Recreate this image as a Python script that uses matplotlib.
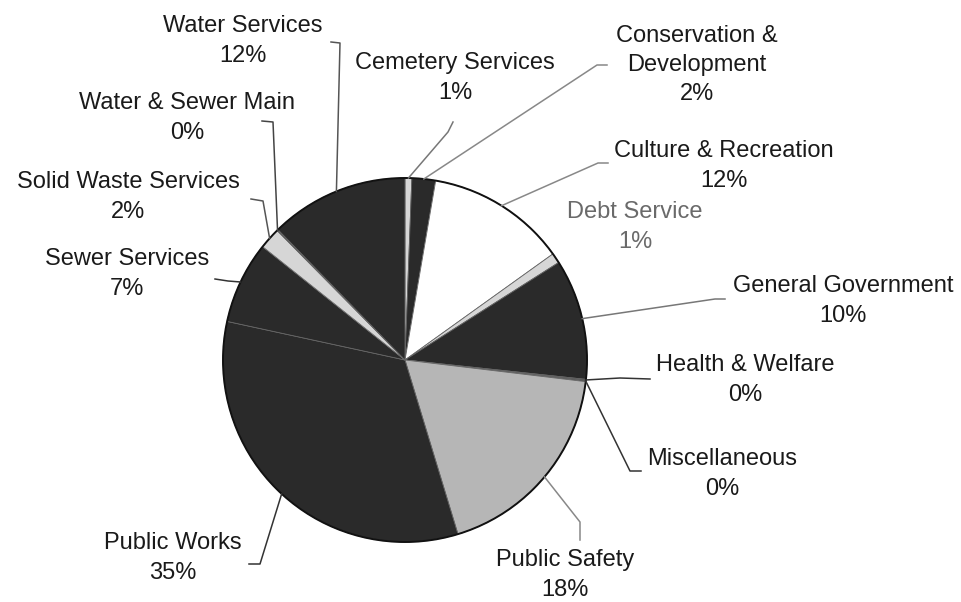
import numpy as np
import matplotlib
matplotlib.use("Agg")
import matplotlib.pyplot as plt

# share of total, clockwise from 12 o'clock
categories = ["Cemetery Services", "Conservation &\nDevelopment", "Culture & Recreation",
              "Debt Service", "General Government", "Health & Welfare", "Miscellaneous",
              "Public Safety", "Public Works", "Sewer Services", "Solid Waste Services",
              "Water & Sewer Main", "Water Services"]
shares = [0.6, 2.1, 12.4, 0.9, 10.7, 0.1, 0.1, 18.4, 33.1, 7.3, 1.9, 0.1, 12.3]
pct_labels = ["1%", "2%", "12%", "1%", "10%", "0%", "0%", "18%", "35%", "7%", "2%", "0%", "12%"]

DARK, LIGHT, SAFE = "#2a2a2a", "#d6d6d6", "#b6b6b6"
colors = [LIGHT, DARK, "white", LIGHT, DARK, DARK, DARK, SAFE, DARK, DARK, LIGHT, DARK, DARK]

# layout in image pixels: label centre, leader elbow, leader end
label_pos = [(455, 78), (697, 65), (724, 166), (635, 227), (843, 301), (745, 380),
             (722, 474), (565, 575), (173, 558), (127, 274), (128, 197), (187, 118), (243, 41)]
elbows = [(448, 132), (597, 65), (598, 163), None, (715, 299), (620, 378),
          (630, 471), (580, 522), (260, 564), (228, 281), (263, 201), (273, 122), (340, 43)]
ends = [(453, 122), (607, 65), (608, 163), None, (725, 299), (650, 379),
        (641, 471), (580, 540), (249, 564), (215, 279), (251, 199), (262, 121), (331, 42)]
leader_col = ["#777777", "#888888", "#888888", None, "#777777", "#333333",
              "#333333", "#888888", "#333333", "#333333", "#555555", "#444444", "#555555"]

W, H = 961, 602
cx, cy, R = 405, 360, 182

fig = plt.figure(figsize=(W / 100, H / 100), dpi=100)
ax = fig.add_axes([0, 0, 1, 1])

# image coordinates (y down): counter-clockwise in data shows clockwise on screen
wedges, _ = ax.pie(shares, colors=colors, startangle=-90, counterclock=True,
                   center=(cx, cy), radius=R, frame=True,
                   wedgeprops=dict(edgecolor="#666666", linewidth=0.6))
ax.set_xlim(0, W)
ax.set_ylim(H, 0)
ax.set_aspect("equal")
ax.axis("off")
ax.add_patch(plt.Circle((cx, cy), R, fill=False, edgecolor="#111111", linewidth=1.4, zorder=3))

for i, w in enumerate(wedges):
    txt_col = "#6a6a6a" if categories[i] == "Debt Service" else "#1a1a1a"
    ax.text(label_pos[i][0], label_pos[i][1], categories[i] + "\n" + pct_labels[i],
            ha="center", va="center", fontsize=17, family="Liberation Sans",
            color=txt_col, linespacing=1.42)
    if elbows[i] is None:
        continue
    ang = np.deg2rad((w.theta1 + w.theta2) / 2)
    anchor = (cx + R * np.cos(ang), cy + R * np.sin(ang))
    xs = [anchor[0], elbows[i][0], ends[i][0]]
    ys = [anchor[1], elbows[i][1], ends[i][1]]
    ax.plot(xs, ys, color=leader_col[i], linewidth=1.1, zorder=4)

fig.savefig("out.png", dpi=100, facecolor="white")
